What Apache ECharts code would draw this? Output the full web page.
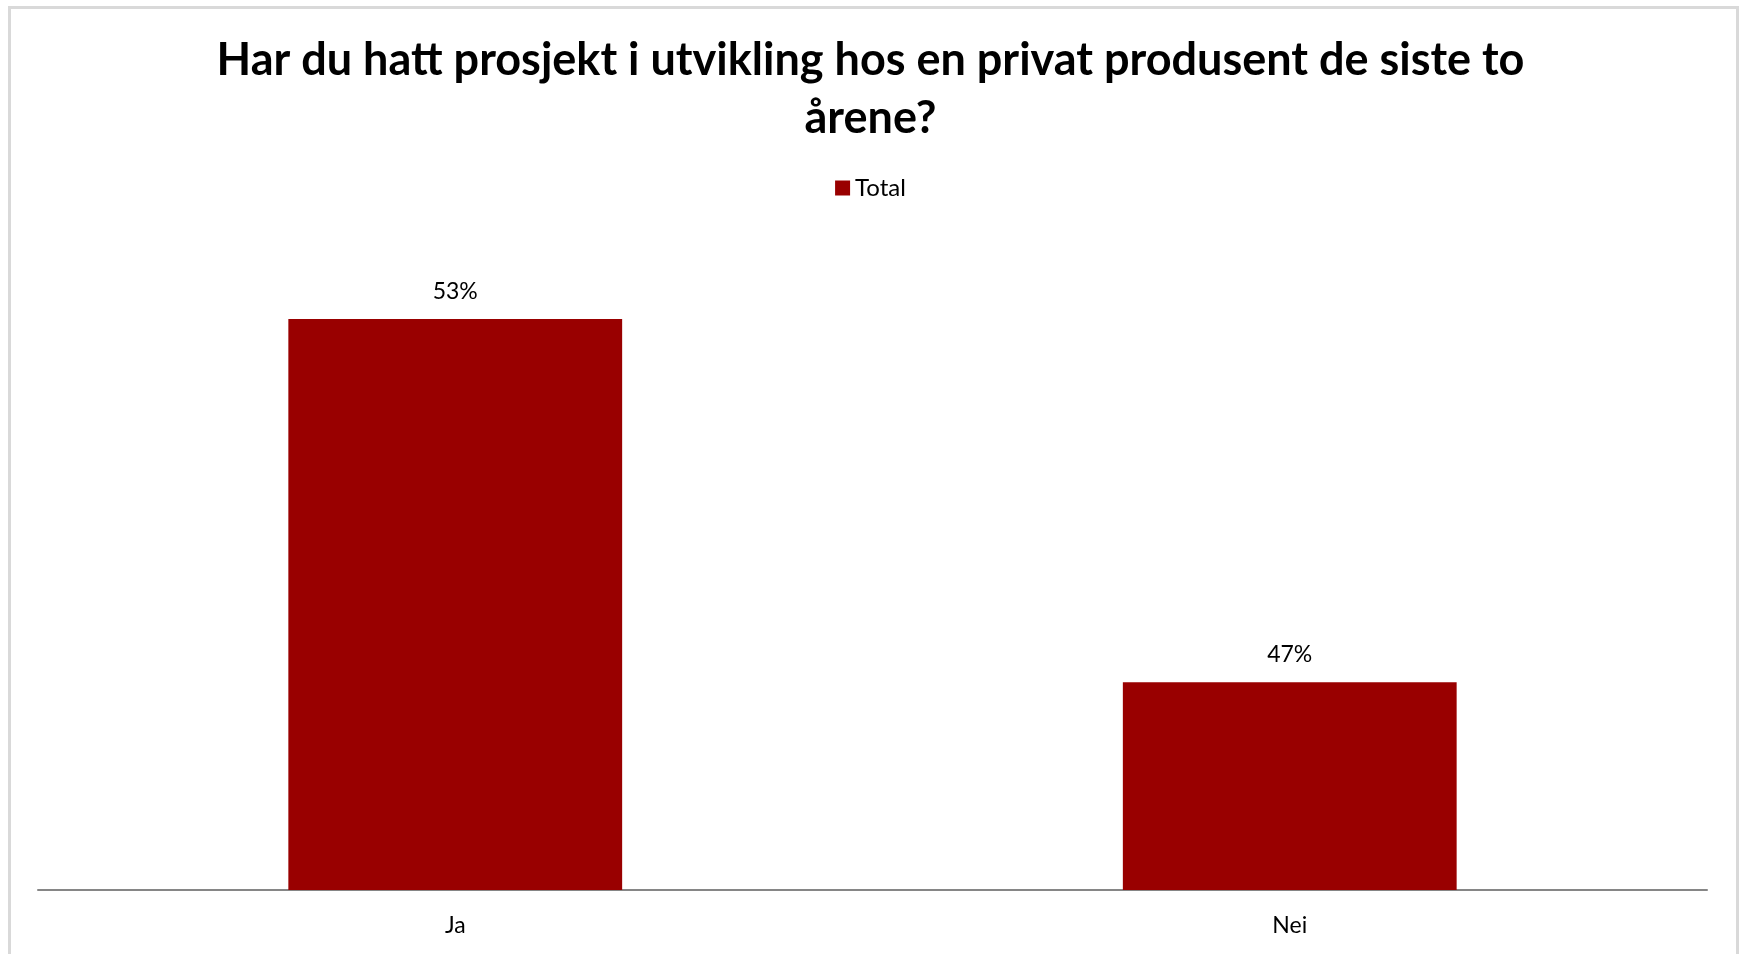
<!DOCTYPE html>
<html>
<head>
<meta charset="utf-8">
<script src="https://cdn.jsdelivr.net/npm/echarts@6/dist/echarts.min.js"></script>
<style>
  html, body { margin: 0; padding: 0; background: #fff; }
  #chart { width: 1741px; height: 954px; }
  .frame {
    position: absolute; left: 8px; top: 6px; width: 1725px; height: 960px;
    border: 3px solid #d9d9d9; border-bottom: none; pointer-events: none;
  }
</style>
</head>
<body>
<div id="chart"></div>
<div class="frame"></div>
<script>
// kategorier og verdier (andel)
const categories = ['Ja', 'Nei'];
const totalValues = [0.528, 0.472];
const seriesName = 'Total';
const titleText = 'Har du hatt prosjekt i utvikling hos en privat produsent de siste to\nårene?';

const font = 'Lato, "Open Sans", sans-serif';
let myChart = echarts.init(document.getElementById('chart'));
let option = {
  animation: false,
  title: {
    text: titleText,
    left: 'center',
    top: 26,
    textStyle: {
      fontFamily: font,
      fontWeight: 'bold',
      fontSize: 45,
      lineHeight: 58,
      color: '#000'
    }
  },
  legend: {
    top: 171,
    left: 'center',
    itemWidth: 15,
    itemHeight: 15,
    itemGap: 10,
    icon: 'rect',
    textStyle: { fontFamily: font, fontSize: 24, color: '#000' },
    data: [seriesName]
  },
  grid: {
    left: 38,
    right: 34,
    top: 241,
    bottom: 64,
    containLabel: false
  },
  xAxis: {
    type: 'category',
    data: categories,
    axisTick: { show: false },
    axisLine: { lineStyle: { color: '#868686', width: 2 } },
    axisLabel: { fontFamily: font, fontSize: 23, color: '#000', margin: 24 }
  },
  yAxis: {
    type: 'value',
    min: 0.44,
    max: 0.54,
    show: false,
    splitLine: { show: false }
  },
  series: [
    {
      name: seriesName,
      type: 'bar',
      barWidth: '40%',
      data: totalValues,
      itemStyle: { color: '#990000' },
      label: {
        show: true,
        position: 'top',
        distance: 16,
        fontFamily: font,
        fontSize: 23,
        color: '#000',
        formatter: function (p) { return Math.round(p.value * 100) + '%'; }
      }
    }
  ]
};
myChart.setOption(option);
</script>
</body>
</html>
